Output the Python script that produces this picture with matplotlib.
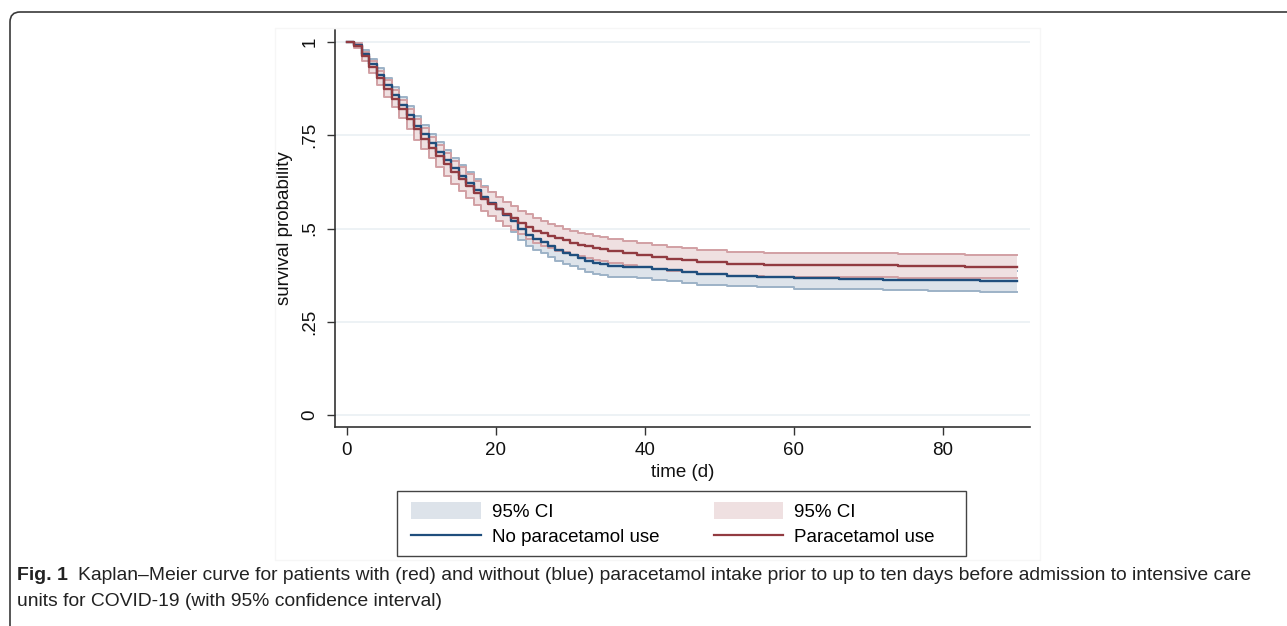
import numpy as np
import matplotlib
matplotlib.use('Agg')
import matplotlib.pyplot as plt
from matplotlib.patches import FancyBboxPatch, Patch, Rectangle
from matplotlib.lines import Line2D

plt.rcParams['font.family'] = ['Liberation Sans', 'DejaVu Sans']

# ---- data ----
blue_t = list(range(0, 36)) + [37, 39, 41, 43, 45, 47, 51, 55, 60, 66, 72, 78, 85, 90]
blue_s = [1.000, 0.992, 0.968, 0.940, 0.912, 0.885, 0.858, 0.830, 0.803, 0.776, 0.752, 0.728,
          0.705, 0.683, 0.662, 0.642, 0.622, 0.603, 0.585, 0.568, 0.552, 0.536, 0.520, 0.498,
          0.482, 0.472, 0.463, 0.452, 0.443, 0.435, 0.428, 0.420, 0.413, 0.408, 0.404, 0.400,
          0.398, 0.396, 0.392, 0.388, 0.383, 0.377, 0.373, 0.370, 0.367, 0.365, 0.363, 0.361,
          0.359, 0.359]
blue_lo = [1.000, 0.987, 0.958, 0.926, 0.895, 0.866, 0.837, 0.808, 0.779, 0.751, 0.726, 0.702,
           0.678, 0.655, 0.634, 0.614, 0.593, 0.574, 0.556, 0.539, 0.523, 0.507, 0.490, 0.468,
           0.452, 0.442, 0.434, 0.423, 0.414, 0.406, 0.399, 0.391, 0.384, 0.379, 0.375, 0.371,
           0.369, 0.367, 0.363, 0.359, 0.354, 0.348, 0.345, 0.342, 0.339, 0.337, 0.335, 0.333,
           0.331, 0.331]
blue_hi = [1.000, 0.997, 0.978, 0.954, 0.929, 0.904, 0.879, 0.852, 0.827, 0.801, 0.778, 0.754,
           0.732, 0.711, 0.690, 0.670, 0.651, 0.632, 0.614, 0.597, 0.581, 0.565, 0.550, 0.528,
           0.512, 0.502, 0.492, 0.481, 0.472, 0.464, 0.457, 0.449, 0.442, 0.437, 0.433, 0.429,
           0.427, 0.425, 0.421, 0.417, 0.412, 0.406, 0.402, 0.398, 0.395, 0.393, 0.391, 0.389,
           0.387, 0.387]

red_t = list(range(0, 36)) + [37, 39, 41, 43, 45, 47, 51, 56, 65, 74, 83, 90]
red_s = [1.000, 0.990, 0.962, 0.932, 0.903, 0.875, 0.848, 0.820, 0.793, 0.766, 0.741, 0.717,
         0.694, 0.672, 0.651, 0.632, 0.613, 0.596, 0.580, 0.566, 0.552, 0.540, 0.528, 0.516,
         0.505, 0.494, 0.487, 0.480, 0.474, 0.468, 0.462, 0.457, 0.452, 0.448, 0.444, 0.440,
         0.434, 0.428, 0.423, 0.419, 0.415, 0.410, 0.405, 0.402, 0.401, 0.400, 0.398, 0.398]
red_lo = [1.000, 0.984, 0.950, 0.916, 0.884, 0.853, 0.825, 0.795, 0.767, 0.738, 0.712, 0.688,
          0.664, 0.641, 0.620, 0.600, 0.581, 0.564, 0.548, 0.534, 0.520, 0.508, 0.496, 0.484,
          0.472, 0.461, 0.454, 0.447, 0.441, 0.436, 0.430, 0.425, 0.420, 0.416, 0.412, 0.408,
          0.402, 0.396, 0.391, 0.387, 0.383, 0.378, 0.374, 0.371, 0.369, 0.368, 0.366, 0.366]
red_hi = [1.000, 0.996, 0.974, 0.948, 0.922, 0.897, 0.871, 0.845, 0.819, 0.794, 0.770, 0.746,
          0.724, 0.703, 0.682, 0.664, 0.645, 0.628, 0.612, 0.598, 0.584, 0.572, 0.560, 0.548,
          0.538, 0.527, 0.520, 0.513, 0.506, 0.500, 0.494, 0.489, 0.484, 0.480, 0.476, 0.472,
          0.466, 0.460, 0.455, 0.451, 0.447, 0.442, 0.437, 0.434, 0.433, 0.432, 0.430, 0.430]

xticks = [0, 20, 40, 60, 80]
yticks = [0, 0.25, 0.5, 0.75, 1]
ytick_labels = ['0', '.25', '.5', '.75', '1']

# colours (Stata navy / maroon)
blue_line = '#1f4e7d'
red_line = '#923b41'
blue_fill = '#dde3ea'
red_fill = '#efe0e1'
blue_edge = '#9db2c7'
red_edge = '#d2a0a4'

fig = plt.figure(figsize=(12.87, 6.26), dpi=100)
W, H = 1287, 626

# outer rounded frame of the figure panel
frame = FancyBboxPatch((0.10, -1.0), 14.0, 6.14 + 1.0,
                       boxstyle='round,pad=0,rounding_size=0.1',
                       transform=fig.dpi_scale_trans, fill=False,
                       edgecolor='#3a3a3a', linewidth=1.2)
fig.patches.append(frame)

# faint graph region outline
fig.patches.append(Rectangle((275 / W, 1 - 560 / H), (1040 - 275) / W, (560 - 28) / H,
                             transform=fig.transFigure, fill=False,
                             edgecolor='#f6f6f6', linewidth=1.0))

ax = fig.add_axes([335 / W, 1 - 427 / H, (1030 - 335) / W, (427 - 30) / H])

# confidence bands
ax.fill_between(blue_t, blue_lo, blue_hi, step='post', color=blue_fill, linewidth=0, zorder=1)
ax.step(blue_t, blue_lo, where='post', color=blue_edge, linewidth=1.4, zorder=2)
ax.step(blue_t, blue_hi, where='post', color=blue_edge, linewidth=1.4, zorder=2)
ax.fill_between(red_t, red_lo, red_hi, step='post', color=red_fill, linewidth=0, zorder=3)
ax.step(red_t, red_lo, where='post', color=red_edge, linewidth=1.4, zorder=4)
ax.step(red_t, red_hi, where='post', color=red_edge, linewidth=1.4, zorder=4)

# survival curves
ax.step(blue_t, blue_s, where='post', color=blue_line, linewidth=1.7, zorder=5)
ax.step(red_t, red_s, where='post', color=red_line, linewidth=1.7, zorder=6)

ax.set_xlim(-1.6, 91.7)
ax.set_ylim(-0.032, 1.032)
ax.set_xticks(xticks)
ax.set_yticks(yticks)
ax.set_yticklabels(ytick_labels, rotation=90, va='center')
ax.tick_params(axis='both', direction='out', length=6, width=1.0, color='#333333',
               labelsize=13.5, labelcolor='#111111')
ax.tick_params(axis='x', pad=5)
ax.tick_params(axis='y', pad=6)
ax.grid(axis='y', color='#eaf0f3', linewidth=1.2, zorder=0)
ax.set_axisbelow(True)
for s in ['top', 'right']:
    ax.spines[s].set_visible(False)
for s in ['left', 'bottom']:
    ax.spines[s].set_color('#333333')
    ax.spines[s].set_linewidth(1.2)

ax.set_xlabel('time (d)', fontsize=13.5, color='#111111')
ax.xaxis.set_label_coords(0.5, -0.092)
ax.set_ylabel('survival probability', fontsize=13.5, color='#111111')
ax.yaxis.set_label_coords(-0.060, 0.5)

# legend (frame drawn separately so it spans the Stata key box)
fig.patches.append(Rectangle((397 / W, 1 - 556 / H), (966 - 397) / W, (556 - 491) / H,
                             transform=fig.transFigure, fill=False,
                             edgecolor='#444444', linewidth=1.0))
handles = [Patch(facecolor=blue_fill, edgecolor='none'),
           Line2D([], [], color=blue_line, linewidth=1.6),
           Patch(facecolor=red_fill, edgecolor='none'),
           Line2D([], [], color=red_line, linewidth=1.6)]
labels = ['95% CI', 'No paracetamol use', '95% CI', 'Paracetamol use']
leg = fig.legend(handles, labels, ncol=2, loc='center left',
                 bbox_to_anchor=(398 / W, 1 - 524 / H),
                 fontsize=13.5, frameon=False,
                 handlelength=3.7, handleheight=1.0,
                 handletextpad=0.6, columnspacing=2.9, borderpad=0.2,
                 labelspacing=0.33)

# caption
fig.text(17 / W, 1 - 575 / H, 'Fig. 1', fontsize=14, fontweight='bold',
         color='#222222', va='center', ha='left')
fig.text(78 / W, 1 - 575 / H,
         'Kaplan\u2013Meier curve for patients with (red) and without (blue) paracetamol intake '
         'prior to up to ten days before admission to intensive care',
         fontsize=13.9, color='#222222', va='center', ha='left')
fig.text(17 / W, 1 - 601 / H,
         'units for COVID-19 (with 95% confidence interval)',
         fontsize=13.9, color='#222222', va='center', ha='left')

fig.savefig('out.png', dpi=100)
